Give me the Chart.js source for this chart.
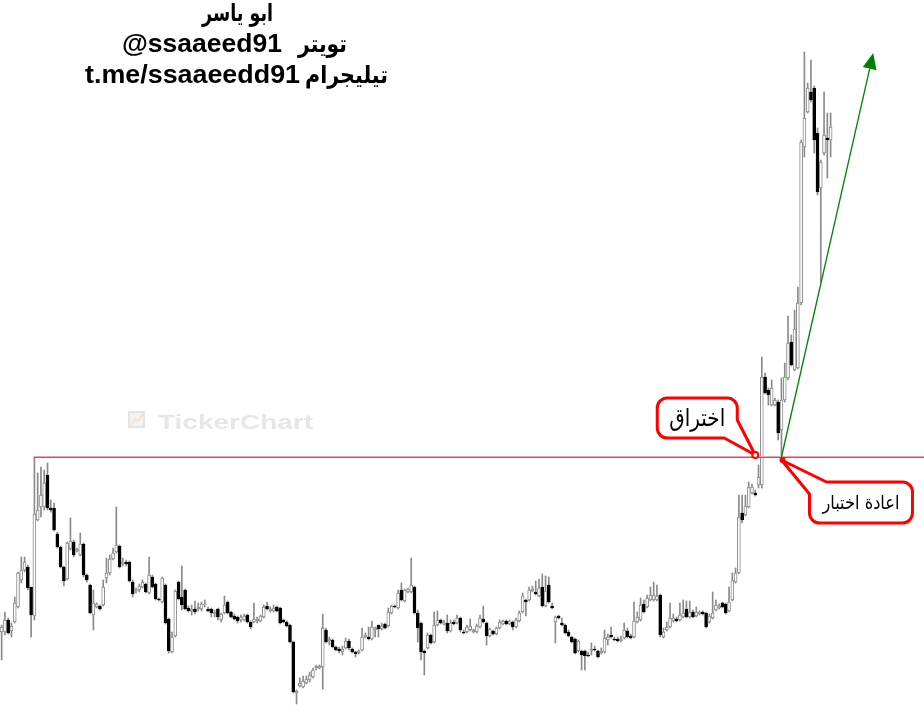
<!DOCTYPE html>
<html>
<head>
<meta charset="utf-8">
<script src="https://cdn.jsdelivr.net/npm/chart.js"></script>
<style>
  html, body { margin: 0; padding: 0; background: #fff; }
  #wrap { width: 924px; height: 728px; }
</style>
</head>
<body>
<div id="wrap"><canvas id="myChart"></canvas></div>
<script>
// daily candles, oldest first
const open = [
  16.8, 16.8, 18.0, 16.9, 17.8, 19.3, 22.0, 23.0, 23.3, 21.3,
  18.4, 28.0, 29.3, 29.3, 32.5, 29.2, 29.2, 26.6, 25.3, 23.3,
  22.1, 25.1, 25.8, 24.9, 24.5, 25.6, 22.5, 21.5, 18.5, 19.3,
  19.4, 19.5, 22.2, 22.7, 24.1, 24.8, 25.4, 23.6, 23.8, 23.8,
  21.8, 20.9, 21.0, 21.3, 21.6, 20.7, 22.3, 21.6, 20.1, 19.8,
  21.5, 18.1, 14.8, 16.4, 21.8, 20.3, 21.0, 19.2, 18.9, 19.1,
  19.1, 19.1, 19.5, 19.1, 19.1, 18.6, 19.1, 18.0, 18.7, 19.8,
  18.8, 18.4, 18.3, 18.0, 18.0, 18.5, 17.8, 17.8, 17.9, 17.9,
  18.3, 19.4, 18.9, 18.9, 19.3, 19.2, 18.0, 17.8, 17.5, 15.8,
  10.7, 11.4, 11.3, 11.7, 12.0, 12.3, 13.2, 13.2, 13.3, 17.0,
  15.9, 16.0, 15.3, 15.1, 14.8, 15.2, 15.9, 15.1, 14.8, 14.7,
  15.0, 16.3, 16.3, 16.1, 17.0, 17.5, 17.1, 17.6, 17.4, 18.7,
  19.4, 19.2, 21.0, 19.9, 20.8, 20.8, 21.3, 18.7, 17.7, 14.9,
  15.2, 16.5, 15.8, 17.5, 18.0, 17.6, 17.7, 16.9, 17.8, 17.7,
  18.2, 16.8, 16.8, 17.0, 16.8, 16.8, 17.3, 18.1, 17.7, 16.4,
  16.9, 16.6, 17.2, 17.6, 17.9, 17.6, 17.8, 17.3, 17.9, 18.8,
  20.0, 20.0, 20.9, 20.8, 20.4, 21.3, 19.4, 21.5, 19.4, 17.8,
  18.4, 17.7, 17.5, 16.8, 16.3, 16.1, 14.9, 14.9, 14.9, 14.5,
  14.9, 15.1, 14.9, 14.7, 14.8, 16.0, 16.5, 16.1, 16.1, 15.9,
  16.2, 16.9, 16.4, 16.3, 17.8, 18.0, 19.6, 19.3, 20.0, 20.0,
  20.0, 20.5, 16.3, 17.0, 17.3, 17.9, 18.1, 18.0, 18.3, 19.1,
  18.3, 18.8, 18.4, 18.6, 18.8, 18.7, 17.8, 18.2, 19.0, 19.2,
  19.7, 19.6, 18.9, 20.0, 21.8, 22.7, 28.7, 28.5, 29.3, 30.7,
  30.7, 31.5, 31.5, 42.3, 41.0, 39.5, 39.5, 39.8, 37.0, 40.0,
  42.2, 45.8, 43.0, 43.2, 49.7, 65.3, 68.8, 70.8, 71.2, 66.7,
  61.2, 64.7, 66.2, 66.0
];
const high = [
  17.5, 18.8, 18.2, 17.7, 20.3, 22.8, 24.3, 24.3, 23.5, 21.3,
  34.3, 32.7, 33.3, 33.0, 33.7, 30.0, 29.7, 26.8, 25.4, 23.4,
  25.8, 28.2, 26.0, 25.2, 26.7, 25.7, 22.6, 21.6, 21.0, 19.7,
  19.5, 22.0, 24.2, 24.5, 25.2, 29.3, 25.5, 24.2, 24.0, 23.9,
  22.0, 21.2, 21.6, 22.0, 21.7, 24.3, 22.5, 21.7, 20.2, 22.3,
  21.6, 18.2, 16.8, 21.0, 21.9, 23.4, 21.1, 19.4, 19.5, 19.9,
  19.7, 19.8, 20.0, 19.3, 19.2, 19.0, 19.2, 18.7, 20.4, 19.9,
  18.9, 18.6, 18.4, 18.5, 18.6, 18.6, 17.9, 19.7, 18.3, 18.5,
  19.5, 19.8, 19.3, 19.5, 19.4, 19.3, 18.1, 17.9, 17.6, 15.9,
  11.0, 12.2, 12.4, 12.4, 12.8, 13.2, 13.5, 13.5, 18.6, 17.2,
  16.3, 16.1, 15.4, 15.3, 15.4, 16.2, 16.1, 15.2, 14.9, 15.0,
  17.2, 16.7, 17.3, 17.9, 17.3, 17.5, 17.7, 17.7, 19.2, 19.5,
  19.5, 21.0, 21.7, 21.1, 21.2, 24.2, 21.4, 19.0, 17.8, 15.0,
  16.7, 16.6, 18.8, 18.9, 18.1, 18.0, 18.5, 18.0, 18.0, 18.5,
  18.3, 17.0, 17.5, 18.1, 17.1, 17.6, 18.5, 19.4, 17.8, 17.2,
  17.0, 17.3, 18.0, 18.0, 18.0, 18.0, 17.9, 18.2, 18.9, 20.7,
  20.1, 21.3, 21.4, 21.9, 22.1, 22.6, 22.4, 22.3, 19.7, 18.4,
  18.5, 18.2, 17.6, 17.0, 16.4, 16.2, 16.0, 15.0, 15.0, 14.8,
  15.7, 15.4, 15.0, 15.2, 17.0, 16.6, 17.3, 16.3, 16.3, 16.4,
  17.7, 17.2, 16.6, 19.8, 18.8, 20.2, 20.0, 20.5, 21.3, 21.8,
  21.5, 20.6, 17.2, 17.8, 19.7, 18.6, 18.3, 19.7, 20.0, 19.9,
  19.9, 19.0, 19.3, 18.9, 18.9, 18.8, 18.6, 20.8, 20.0, 19.6,
  19.8, 19.7, 21.3, 22.7, 23.2, 30.5, 30.5, 30.5, 31.8, 31.6,
  31.0, 33.5, 44.3, 42.7, 41.2, 42.0, 40.2, 40.0, 42.2, 43.7,
  48.4, 46.5, 49.0, 51.3, 66.0, 74.8, 71.7, 74.0, 71.4, 67.2,
  64.0, 70.8, 68.7, 68.7
];
const low = [
  14.0, 16.5, 16.6, 16.3, 17.7, 19.2, 21.7, 22.8, 21.0, 16.3,
  18.0, 27.9, 28.3, 29.0, 29.0, 28.8, 26.9, 25.2, 23.2, 21.4,
  22.0, 25.0, 24.3, 24.8, 24.4, 22.3, 21.8, 18.6, 17.0, 19.2,
  19.0, 19.4, 21.7, 22.5, 24.0, 24.7, 23.2, 23.4, 23.4, 21.8,
  20.3, 20.7, 20.8, 21.2, 20.7, 20.6, 21.2, 20.0, 19.9, 19.7,
  17.6, 14.7, 14.7, 16.3, 20.0, 19.0, 19.0, 18.8, 18.5, 18.6,
  18.9, 18.9, 19.3, 18.8, 18.3, 18.3, 18.0, 17.8, 18.6, 18.6,
  18.2, 18.0, 17.7, 17.8, 17.9, 17.7, 17.1, 17.7, 17.7, 17.8,
  18.2, 19.0, 18.8, 18.8, 18.8, 17.6, 17.7, 17.3, 15.7, 10.7,
  9.6, 11.3, 11.2, 11.6, 11.8, 12.2, 13.0, 13.1, 11.1, 15.7,
  15.5, 15.2, 14.9, 14.7, 14.5, 15.1, 15.0, 14.7, 14.3, 14.6,
  14.9, 16.2, 16.0, 16.0, 16.3, 16.3, 17.0, 17.1, 17.3, 18.6,
  19.2, 19.1, 19.9, 19.8, 20.7, 20.7, 18.6, 15.8, 14.0, 12.5,
  15.1, 15.6, 15.7, 17.4, 17.6, 17.5, 16.7, 16.8, 17.5, 17.6,
  16.8, 16.6, 16.7, 16.9, 16.7, 16.7, 17.2, 17.7, 15.5, 16.3,
  16.5, 16.5, 17.1, 17.5, 17.5, 17.5, 17.0, 17.2, 17.8, 18.7,
  18.4, 19.9, 20.8, 20.5, 20.3, 19.3, 19.3, 19.7, 19.1, 15.7,
  18.1, 17.4, 16.6, 16.3, 15.7, 14.6, 14.8, 13.0, 13.0, 14.3,
  14.5, 14.9, 14.2, 14.6, 14.7, 15.5, 16.2, 15.9, 15.8, 15.8,
  16.1, 16.2, 16.1, 16.2, 17.7, 17.9, 18.7, 19.2, 19.9, 19.9,
  19.9, 16.3, 16.2, 16.9, 17.2, 17.8, 17.8, 17.9, 18.2, 18.2,
  18.2, 18.2, 18.3, 18.5, 18.5, 17.2, 17.7, 18.1, 18.9, 19.1,
  19.2, 18.6, 18.8, 19.9, 21.7, 22.6, 27.7, 28.4, 29.2, 30.6,
  30.4, 31.2, 31.2, 40.6, 39.5, 39.4, 39.4, 36.0, 34.3, 39.8,
  42.0, 43.4, 42.9, 43.1, 49.5, 64.3, 68.7, 69.8, 64.7, 60.5,
  51.8, 64.5, 62.2, 64.3
];
const close = [
  17.3, 18.0, 16.7, 17.4, 19.7, 22.7, 23.0, 23.8, 21.2, 18.5,
  28.6, 29.0, 30.5, 31.7, 29.2, 29.0, 27.0, 25.3, 23.3, 21.9,
  25.7, 25.9, 24.5, 25.1, 25.6, 22.5, 22.0, 18.7, 19.7, 19.6,
  19.1, 21.3, 22.7, 24.1, 24.7, 25.5, 23.3, 23.8, 23.6, 21.9,
  20.6, 21.1, 21.4, 21.8, 20.8, 22.5, 21.3, 20.1, 20.0, 22.2,
  17.7, 14.9, 16.3, 20.9, 20.1, 19.5, 19.1, 18.9, 19.1, 18.8,
  19.3, 19.6, 19.6, 18.9, 18.7, 18.8, 18.3, 18.6, 19.5, 18.7,
  18.3, 18.1, 17.9, 18.3, 18.4, 17.8, 17.3, 18.1, 18.1, 18.4,
  19.3, 19.1, 19.1, 19.2, 18.9, 17.7, 17.8, 17.4, 15.8, 10.8,
  10.9, 11.7, 11.9, 12.1, 12.5, 13.0, 13.4, 13.4, 17.2, 15.8,
  16.1, 15.3, 15.0, 14.9, 15.1, 15.9, 15.2, 14.8, 14.6, 14.9,
  16.3, 16.5, 16.1, 17.3, 17.2, 17.1, 17.4, 17.2, 18.8, 19.4,
  19.3, 20.7, 20.0, 21.0, 21.1, 21.5, 18.7, 17.2, 14.8, 14.7,
  16.5, 15.7, 17.5, 18.0, 17.7, 17.7, 16.9, 17.7, 17.6, 18.2,
  17.0, 16.7, 17.3, 17.4, 17.0, 17.4, 18.2, 17.8, 16.4, 17.1,
  16.6, 17.2, 17.8, 17.9, 17.6, 17.9, 17.3, 18.0, 18.7, 20.4,
  19.8, 21.0, 21.1, 20.6, 21.2, 19.4, 20.9, 19.8, 19.2, 18.3,
  18.2, 17.5, 16.7, 16.4, 15.8, 14.7, 15.9, 14.5, 14.4, 14.4,
  15.1, 15.0, 14.3, 14.9, 16.2, 16.3, 16.3, 16.0, 15.9, 16.1,
  17.0, 16.3, 16.2, 17.9, 18.3, 19.5, 18.8, 20.2, 20.5, 20.5,
  20.4, 16.5, 16.8, 17.3, 18.2, 18.2, 17.9, 18.5, 18.7, 18.3,
  18.8, 18.3, 18.8, 18.8, 18.6, 17.3, 18.4, 18.7, 19.5, 19.4,
  19.3, 18.7, 19.8, 22.0, 22.7, 28.3, 28.0, 29.4, 31.3, 31.3,
  30.5, 32.3, 42.3, 40.7, 40.5, 41.2, 40.0, 36.7, 40.0, 42.3,
  45.7, 43.5, 47.1, 49.7, 65.8, 68.2, 71.2, 70.0, 66.0, 60.8,
  63.8, 66.5, 66.0, 67.3
];

// empty slots after the last candle leave room for the arrow
const slotCount = 282;
const labels = [];
for (let i = 0; i < slotCount; i++) labels.push(i < open.length ? "D" + (i + 1) : "");

const resistance = 34.3;      // old high, drawn as the red line
const resistanceFrom = 10;    // candle that made that high
const retestAt = 238;         // candle whose low came back to the line
const target = { idx: 266, price: 74.7 };
const breakoutAt = { idx: 230, price: 34.5 };

const bodies = [];
const wicks = [];
const bodyFill = [];
const bodyEdge = [];
for (let i = 0; i < open.length; i++) {
  bodies.push([open[i], close[i]]);
  wicks.push([low[i], high[i]]);
  const up = close[i] >= open[i];
  bodyFill.push(up ? "#ffffff" : "#000000");
  bodyEdge.push(up ? "#8a8a8a" : "#000000");
}

function bubble(ctx, b, tip, corner) {
  const r = 10;
  ctx.beginPath();
  if (corner === "br") {
    ctx.moveTo(b.l + r, b.t);
    ctx.lineTo(b.r - r, b.t);
    ctx.arcTo(b.r, b.t, b.r, b.t + r, r);
    ctx.lineTo(b.r, b.t + 22);
    ctx.lineTo(tip.x, tip.y);
    ctx.lineTo(b.r - 13, b.b);
    ctx.lineTo(b.l + r, b.b);
    ctx.arcTo(b.l, b.b, b.l, b.b - r, r);
    ctx.lineTo(b.l, b.t + r);
    ctx.arcTo(b.l, b.t, b.l + r, b.t, r);
  } else {
    ctx.moveTo(b.l + 17, b.t);
    ctx.lineTo(b.r - r, b.t);
    ctx.arcTo(b.r, b.t, b.r, b.t + r, r);
    ctx.lineTo(b.r, b.b - r);
    ctx.arcTo(b.r, b.b, b.r - r, b.b, r);
    ctx.lineTo(b.l + r, b.b);
    ctx.arcTo(b.l, b.b, b.l, b.b - r, r);
    ctx.lineTo(b.l, b.t + 12);
    ctx.lineTo(tip.x, tip.y);
  }
  ctx.closePath();
  ctx.fillStyle = "#ffffff";
  ctx.fill();
  ctx.lineWidth = 3;
  ctx.lineJoin = "round";
  ctx.strokeStyle = "#ff0000";
  ctx.stroke();
}

// text at a given size, squeezed sideways to a given width
function squeezeText(ctx, text, x, y, width, size, weight, family, align) {
  ctx.save();
  ctx.font = weight + " " + size + "px " + family;
  const w = ctx.measureText(text).width;
  const left = align === "center" ? x - width / 2 : x;
  ctx.translate(left, y);
  ctx.scale(width / w, 1);
  ctx.textAlign = "left";
  ctx.fillText(text, 0, 0);
  ctx.restore();
}

const latin = "'Liberation Sans', sans-serif";
const arabic = "'DejaVu Sans', sans-serif";

const drawings = {
  id: "drawings",
  beforeDatasetsDraw(chart) {
    const ctx = chart.ctx;
    ctx.save();
    // faint TickerChart watermark
    ctx.fillStyle = "#f3f3f3";
    ctx.strokeStyle = "#e4e4e4";
    ctx.lineWidth = 2;
    ctx.fillRect(129, 412, 15, 15);
    ctx.strokeRect(129, 412, 15, 15);
    ctx.strokeStyle = "#f6e2c8";
    ctx.beginPath();
    ctx.moveTo(131, 425); ctx.lineTo(135, 419); ctx.lineTo(138, 421); ctx.lineTo(143, 414);
    ctx.stroke();
    ctx.fillStyle = "#e6e6e6";
    ctx.textBaseline = "alphabetic";
    squeezeText(ctx, "TickerChart", 158, 429, 155, 21, "900", latin, "left");
    ctx.restore();
  },
  afterDatasetsDraw(chart) {
    const ctx = chart.ctx;
    const xs = chart.scales.x;
    const ys = chart.scales.y;
    ctx.save();

    // resistance line
    const yr = Math.round(ys.getPixelForValue(resistance));
    const xr = Math.round(xs.getPixelForValue(resistanceFrom));
    ctx.fillStyle = "#f7a3a3";
    ctx.fillRect(xr, yr - 1, chart.width - xr, 1);
    ctx.fillStyle = "#ee4242";
    ctx.fillRect(xr, yr, chart.width - xr, 1);

    // green arrow from the retest
    const x0 = xs.getPixelForValue(retestAt);
    const y0 = ys.getPixelForValue(low[retestAt]);
    const x1 = xs.getPixelForValue(target.idx);
    const y1 = ys.getPixelForValue(target.price);
    const ang = Math.atan2(y1 - y0, x1 - x0);
    const len = 16, half = 7;
    const bx = x1 - len * Math.cos(ang), by = y1 - len * Math.sin(ang);
    ctx.strokeStyle = "#008000";
    ctx.lineWidth = 1.3;
    ctx.beginPath();
    ctx.moveTo(x0, y0);
    ctx.lineTo(bx, by);
    ctx.stroke();
    ctx.fillStyle = "#008000";
    ctx.beginPath();
    ctx.moveTo(x1, y1);
    ctx.lineTo(bx + half * Math.sin(ang), by - half * Math.cos(ang));
    ctx.lineTo(bx - half * Math.sin(ang), by + half * Math.cos(ang));
    ctx.closePath();
    ctx.fill();

    // breakout callout
    const t1 = { x: xs.getPixelForValue(breakoutAt.idx), y: ys.getPixelForValue(breakoutAt.price) };
    const b1 = { l: t1.x - 98, r: t1.x - 18, t: t1.y - 57, b: t1.y - 17 };
    bubble(ctx, b1, t1, "br");
    ctx.beginPath();
    ctx.arc(t1.x, t1.y, 3, 0, Math.PI * 2);
    ctx.fillStyle = "#ffffff";
    ctx.fill();
    ctx.lineWidth = 2;
    ctx.stroke();
    ctx.fillStyle = "#000000";
    ctx.textBaseline = "alphabetic";
    squeezeText(ctx, "اختراق", (b1.l + b1.r) / 2, b1.t + 28, 56, 24, "400", arabic, "center");

    // retest callout
    const t2 = { x: x0, y: y0 + 3 };
    const b2 = { l: t2.x + 28, r: t2.x + 131, t: t2.y + 22, b: t2.y + 63 };
    bubble(ctx, b2, t2, "tl");
    ctx.beginPath();
    ctx.arc(t2.x + 1, t2.y, 3, 0, Math.PI * 2);
    ctx.fillStyle = "#ff0000";
    ctx.fill();
    ctx.fillStyle = "#000000";
    squeezeText(ctx, "اعادة اختبار", (b2.l + b2.r) / 2, b2.t + 27, 77, 19, "400", arabic, "center");

    // author lines
    ctx.fillStyle = "#000000";
    squeezeText(ctx, "ابو ياسر", 202, 21, 71, 24, "700", arabic, "left");
    squeezeText(ctx, "@ssaaeed91", 122, 52, 160, 26, "700", latin, "left");
    squeezeText(ctx, "تويتر", 298, 52, 49, 24, "700", arabic, "left");
    squeezeText(ctx, "t.me/ssaaeedd91", 85, 83, 215, 26, "700", latin, "left");
    squeezeText(ctx, "تيليجرام", 305, 83, 83, 24, "700", arabic, "left");
    ctx.restore();
  }
};

new Chart(document.getElementById("myChart"), {
  type: "bar",
  data: {
    labels: labels,
    datasets: [
      {
        label: "body",
        data: bodies,
        backgroundColor: bodyFill,
        borderColor: bodyEdge,
        borderWidth: 1,
        borderSkipped: false,
        barThickness: 3,
        minBarLength: 1,
        grouped: false,
        order: 0,
      },
      {
        label: "wick",
        data: wicks,
        backgroundColor: "#8a8a8a",
        borderWidth: 0,
        barThickness: 1,
        grouped: false,
        order: 1,
      },
    ],
  },
  options: {
    responsive: true,
    maintainAspectRatio: false,
    animation: false,
    events: [],
    layout: { padding: 0 },
    plugins: { legend: { display: false }, tooltip: { enabled: false } },
    scales: {
      x: { display: false },
      y: { display: false, min: 7.2, max: 80 },
    },
  },
  plugins: [drawings],
});
</script>
</body>
</html>
